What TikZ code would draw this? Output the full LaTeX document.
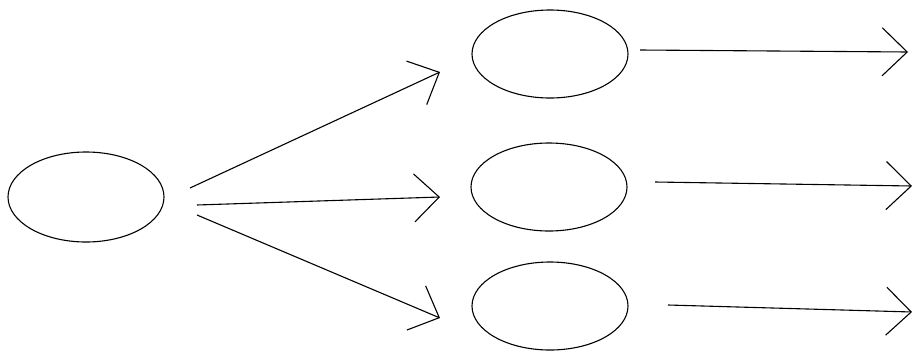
\documentclass[tikz,border=0pt]{standalone}
\usetikzlibrary{shapes.geometric,arrows.meta}
\begin{document}
\begin{tikzpicture}[x=1pt,y=-1pt,
  oval/.style={draw,ellipse,line width=1.1pt,inner sep=0pt,minimum width=156pt,minimum height=88pt},
  conn/.style={line width=1.1pt,-{Straight Barb[length=25pt,width=48pt,line width=1.1pt]}}]
\useasboundingbox (0,0) rectangle (918,354);
\node[oval,minimum height=90pt] (src) at (86,197) {};
\node[oval] (t1) at (550,54) {};
\node[oval] (t2) at (549,187) {};
\node[oval] (t3) at (550,306) {};
\coordinate (s1) at (190,188);
\coordinate (s2) at (197,205);
\coordinate (s3) at (197,215);
\coordinate (e1) at (440,72);
\coordinate (e2) at (440,197);
\coordinate (e3) at (440,318);
\coordinate (r1) at (640,50);
\coordinate (r2) at (655,182);
\coordinate (r3) at (668,305);
\coordinate (f1) at (908,52);
\coordinate (f2) at (912,186);
\coordinate (f3) at (912,312);
\draw[conn] (s1) -- (e1);
\draw[conn] (s2) -- (e2);
\draw[conn] (s3) -- (e3);
\draw[conn] (r1) -- (f1);
\draw[conn] (r2) -- (f2);
\draw[conn] (r3) -- (f3);
\end{tikzpicture}
\end{document}
